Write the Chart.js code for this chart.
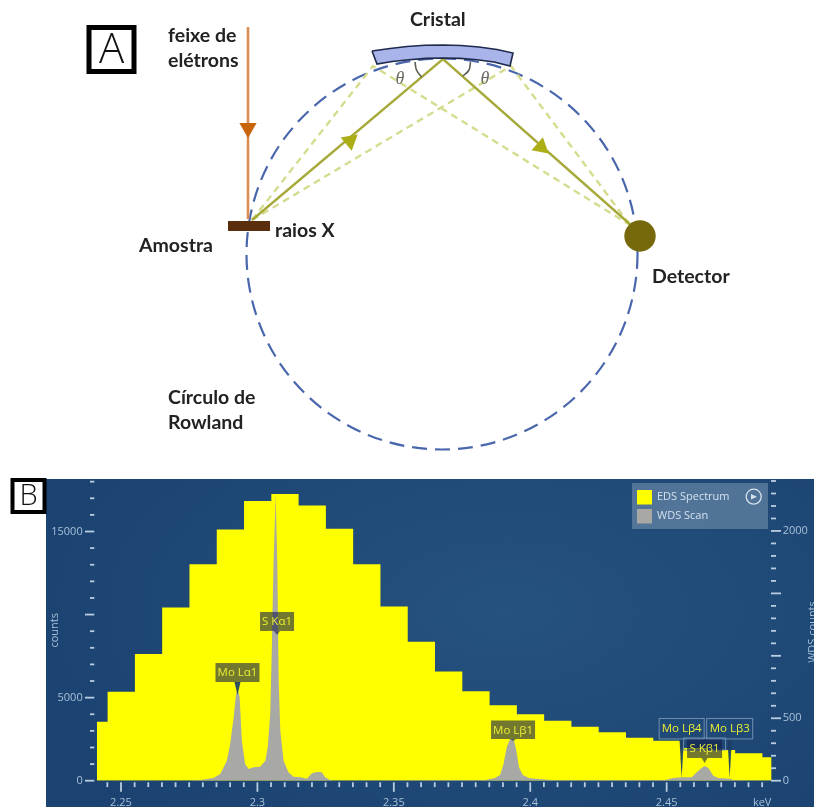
<!DOCTYPE html>
<html>
<head>
<meta charset="utf-8">
<script src="https://cdn.jsdelivr.net/npm/chart.js@4"></script>
<style>
  html, body { margin: 0; padding: 0; background: #fff; width: 814px; height: 807px; overflow: hidden; }
  canvas { position: absolute; display: block; }
  #spectrum { left: 46px; top: 479px; background: radial-gradient(ellipse 70% 90% at 60% 40%, #265280 0%, #1d4674 70%, #1b4270 100%); }
  #diagram { left: 0; top: 0; pointer-events: none; }
</style>
</head>
<body>
<canvas id="spectrum" width="768" height="328"></canvas>
<canvas id="diagram" width="814" height="807"></canvas>
<script>
// ---- spectrum data (panel B)
var edsEnergy = [2.2411, 2.2451, 2.2551, 2.2651, 2.2751, 2.2851, 2.2951, 2.3051, 2.3151, 2.3251, 2.3351, 2.3451, 2.3551,
  2.3651, 2.3751, 2.3851, 2.3951, 2.4051, 2.4151, 2.4251, 2.4351, 2.4451, 2.4551, 2.4651, 2.4751, 2.4851, 2.4885];
var edsCounts = [3554, 5360, 7630, 10420, 13030, 15120, 16830, 17250, 16570, 15160, 13030, 10480, 8370,
  6570, 5380, 4540, 4000, 3610, 3250, 2910, 2590, 2410, 1970, 1850, 1650, 1410, 1410];

var wdsEnergy = [2.2412, 2.2742, 2.2791, 2.2839, 2.2864, 2.2888, 2.29, 2.2913, 2.2921, 2.2927, 2.2935, 2.2943, 2.2955, 2.2968,
  2.2986, 2.301, 2.3029, 2.3038, 2.3047, 2.3053, 2.3059, 2.3067, 2.3073, 2.3078, 2.3084, 2.3096, 2.3114, 2.3132, 2.3157,
  2.3181, 2.32, 2.3218, 2.3236, 2.3248, 2.3267, 2.3279,
  2.3835, 2.3871, 2.389, 2.3902, 2.3914, 2.3926, 2.3939, 2.3948, 2.3959, 2.3972, 2.3994, 2.403, 2.4079, 2.4152,
  2.4494, 2.4524, 2.4555, 2.4592, 2.461, 2.4628, 2.464, 2.4653, 2.4671, 2.4689, 2.4732, 2.4744, 2.4763, 2.4885];
var wdsCounts = [0, 0, 5, 21, 53, 160, 294, 507, 681, 734, 667, 320, 133, 93,
  107, 112, 160, 267, 534, 1068, 1735, 2290, 1735, 801, 400, 160, 67, 32, 27,
  16, 59, 69, 67, 27, 5, 0,
  5, 21, 48, 133, 267, 334, 334, 254, 107, 48, 21, 13, 5, 3,
  5, 21, 27, 27, 67, 101, 117, 101, 40, 21, 16, 5, 3, 0];

var energyTicks = [2.245, 2.25, 2.255, 2.26, 2.265, 2.27, 2.275, 2.28, 2.285, 2.29, 2.295, 2.3, 2.305, 2.31, 2.315, 2.32, 2.325,
  2.33, 2.335, 2.34, 2.345, 2.35, 2.355, 2.36, 2.365, 2.37, 2.375, 2.38, 2.385, 2.39, 2.395, 2.4, 2.405, 2.41, 2.415, 2.42,
  2.425, 2.43, 2.435, 2.44, 2.445, 2.45, 2.455, 2.46, 2.465, 2.47, 2.475, 2.48, 2.485];
var energyMajor = [2.25, 2.3, 2.35, 2.4, 2.45];
var energyLabels = { '2.250': '2.25', '2.300': '2.3', '2.350': '2.35', '2.400': '2.4', '2.450': '2.45', '2.485': 'keV' };

var countTicks = [0, 1000, 2000, 3000, 4000, 5000, 6000, 7000, 8000, 9000, 10000, 11000, 12000, 13000, 14000, 15000, 16000, 17000, 18000];
var countMajor = [0, 5000, 10000, 15000];
var countLabels = [0, 5000, 15000];

var wdsTicks = [0, 100, 200, 300, 400, 500, 600, 700, 800, 900, 1000, 1100, 1200, 1300, 1400, 1500, 1600, 1700, 1800, 1900, 2000, 2100, 2200, 2300, 2400];
var wdsMajor = [0, 500, 1000, 1500, 2000];
var wdsLabels = [0, 500, 2000];

var peakNames = ['Mo L\u03b11', 'S K\u03b11', 'Mo L\u03b21', 'Mo L\u03b24', 'Mo L\u03b23', 'S K\u03b21'];
var peakEnergy = [2.2927, 2.3072, 2.3937, 2.4555, 2.4731, 2.4639];
var peakTipCounts = [686, 1167, 318, 22, 22, 142];

// ---- diagram geometry (panel A), page coordinates
var beamLine = [[248, 27], [248, 219]];
var sampleLine = [[228, 226], [270, 226]];
var raySolid = [[252, 220], [443, 59], [632, 226]];
var rayDashLeft = [[252, 220], [373, 66], [630, 225]];
var rayDashRight = [[252, 220], [511, 66], [630, 225]];
var crystalOutline = [[372, 51], [390, 48.5], [407, 46.5], [425, 45.3], [443, 45], [461, 45.5], [479, 47], [497, 49.5], [513, 53],
  [510, 66], [494, 62], [477, 59.7], [460, 58.4], [443, 58], [426, 58.4], [409, 59.7], [392, 61.5], [377, 64], [372, 51]];
var thetaLeft = [[415, 62], [416.5, 70], [421.5, 77]];
var thetaRight = [[470.5, 62], [469, 70], [463, 76]];
var detectorPoint = [[640, 236]];
var beamArrow = [[248, 128]];
var rayArrowIn = [[350, 141]];
var rayArrowOut = [[541, 147]];
var rowland = { x: 442, y: 254, r: 195.5 };

var diagramTexts = ['feixe de', 'el\u00e9trons', 'Cristal', 'raios X', 'Amostra', 'Detector', 'C\u00edrculo de', 'Rowland'];
var diagramTextX = [168, 168, 410, 275, 139, 652, 168, 168];
var diagramTextY = [36, 61, 20, 231, 246, 277, 398, 423];

function pts(a) { return a.map(function(p) { return { x: p[0], y: p[1] }; }); }
function zip(xs, ys) { return xs.map(function(x, i) { return { x: x, y: ys[i] }; }); }

var axisColor = '#a8c0d8';
var tickColor = '#b9cde0';
var axisFont = { family: '"Open Sans"', size: 11 };

// one label per peak: stem is the pointer length, boxed the plain outlined ones
var peakStyle = [
  { stem: 13, w: 44, h: 19, wedge: 3, dark: true },
  { stem: 4, w: 34, h: 19, wedge: 3 },
  { stem: 2, w: 44, h: 18.5, wedge: 3 },
  { stem: 39, w: 45, h: 20.5, wedge: 2.2, outlined: true, dark: true },
  { stem: 39, w: 46, h: 20.5, wedge: 2.2, outlined: true, dark: true },
  { stem: 5, w: 35, h: 18.5, wedge: 3, halo: true }
];

var tickMarks = {
  id: 'tickMarks',
  afterDraw: function(chart) {
    var c = chart.ctx, a = chart.chartArea, s = chart.scales;
    c.save();
    c.strokeStyle = tickColor;
    c.lineWidth = 1.8;
    energyTicks.forEach(function(v) {
      var x = s.x.getPixelForValue(v);
      var len = energyMajor.indexOf(v) >= 0 ? 9.5 : 4.8;
      c.beginPath(); c.moveTo(x, a.bottom + 1.6); c.lineTo(x, a.bottom + 1.6 + len); c.stroke();
    });
    countTicks.forEach(function(v) {
      var y = s.y.getPixelForValue(v);
      var len = countMajor.indexOf(v) >= 0 ? 9.3 : 4.3;
      c.beginPath(); c.moveTo(a.left - 2.4, y); c.lineTo(a.left - 2.4 - len, y); c.stroke();
    });
    wdsTicks.forEach(function(v) {
      var y = s.y2.getPixelForValue(v);
      var len = wdsMajor.indexOf(v) >= 0 ? 10 : 5;
      c.beginPath(); c.moveTo(a.right - 0.7, y); c.lineTo(a.right - 0.7 + len, y); c.stroke();
    });
    // right axis title runs off the edge of the panel, as in the original
    c.fillStyle = axisColor;
    c.font = '11px "Open Sans"';
    c.textAlign = 'center';
    c.textBaseline = 'middle';
    c.translate(767, 153);
    c.rotate(-Math.PI / 2);
    c.fillText('WDS counts', 0, 0);
    c.restore();
  }
};

var peakLabels = {
  id: 'peakLabels',
  afterDatasetsDraw: function(chart) {
    var c = chart.ctx, s = chart.scales;
    c.save();
    c.font = '11.5px "Open Sans"';
    c.textAlign = 'center';
    c.textBaseline = 'middle';
    peakNames.forEach(function(name, i) {
      var st = peakStyle[i];
      var x = s.x.getPixelForValue(peakEnergy[i]);
      var tip = s.y2.getPixelForValue(peakTipCounts[i]);
      var bottom = tip - st.stem;
      var top = bottom - st.h;
      if (st.halo) {
        c.strokeStyle = '#6f8fb0';
        c.lineWidth = 1;
        c.strokeRect(x - 21, top - 1.5, 42, 12);
      }
      c.fillStyle = st.dark ? 'rgba(28,62,104,0.92)' : 'rgba(20,30,75,0.6)';
      c.beginPath();
      c.moveTo(x - st.wedge, bottom); c.lineTo(x + st.wedge, bottom); c.lineTo(x, tip);
      c.closePath(); c.fill();
      if (st.outlined) {
        c.strokeStyle = '#6f8fb0';
        c.lineWidth = 1;
        c.strokeRect(x - st.w / 2, top, st.w, st.h);
      } else {
        c.fillStyle = 'rgba(20,30,75,0.6)';
        c.fillRect(x - st.w / 2, top, st.w, st.h);
      }
      c.fillStyle = '#ecee34';
      c.fillText(name, x, top + st.h / 2 + 0.5);
    });
    c.restore();
  }
};

var legendBox = {
  id: 'legendBox',
  afterDraw: function(chart) {
    var c = chart.ctx;
    c.save();
    c.fillStyle = 'rgba(170,190,210,0.36)';
    c.fillRect(586, 4, 136, 46);
    chart.data.datasets.forEach(function(ds, i) {
      // EDS is the second dataset but the first legend row
      var row = i === 1 ? 0 : 1;
      c.fillStyle = ds.backgroundColor;
      c.fillRect(591, 11 + row * 19, 15, 14.5);
      c.fillStyle = '#d6e2ee';
      c.font = '11px "Open Sans"';
      c.textAlign = 'left';
      c.textBaseline = 'middle';
      c.fillText(ds.label, 611, 18 + row * 18.5);
    });
    c.strokeStyle = '#d6e2ee';
    c.lineWidth = 1.3;
    c.beginPath(); c.arc(707.7, 17.7, 7.5, 0, Math.PI * 2); c.stroke();
    c.fillStyle = '#d6e2ee';
    c.beginPath(); c.moveTo(705, 15); c.lineTo(711, 17.7); c.lineTo(705, 20.4); c.closePath(); c.fill();
    c.restore();
  }
};

new Chart(document.getElementById('spectrum'), {
  type: 'line',
  data: {
    datasets: [
      { label: 'WDS Scan', data: zip(wdsEnergy, wdsCounts), yAxisID: 'y2', borderWidth: 0, pointRadius: 0,
        backgroundColor: '#a8a8a4', fill: 'origin' },
      { label: 'EDS Spectrum', data: zip(edsEnergy, edsCounts), yAxisID: 'y', stepped: true, borderWidth: 0, pointRadius: 0,
        backgroundColor: '#ffff00', fill: 'origin' }
    ]
  },
  plugins: [peakLabels, tickMarks, legendBox],
  options: {
    responsive: false,
    animation: false,
    layout: { autoPadding: false, padding: { top: 1 } },
    plugins: { legend: { display: false }, tooltip: { enabled: false } },
    scales: {
      x: {
        type: 'linear', min: 2.2411, max: 2.4885,
        grid: { display: false, drawTicks: false }, border: { display: false },
        afterBuildTicks: function(scale) { scale.ticks = energyTicks.map(function(v) { return { value: v }; }); },
        afterFit: function(scale) { scale.height = 26.3; scale.paddingLeft = 0; scale.paddingRight = 0; },
        ticks: {
          autoSkip: false, maxRotation: 0, color: axisColor, font: axisFont, padding: 16,
          callback: function(v) { return energyLabels[v.toFixed(3)] || ''; }
        }
      },
      y: {
        position: 'left', min: 0, max: 18100,
        grid: { display: false, drawTicks: false }, border: { display: false },
        afterBuildTicks: function(scale) { scale.ticks = countTicks.map(function(v) { return { value: v }; }); },
        afterFit: function(scale) { scale.width = 50.7; scale.paddingTop = 0; scale.paddingBottom = 0; },
        title: { display: true, text: 'counts', color: axisColor, font: axisFont, padding: { top: 2, bottom: 0 } },
        ticks: {
          autoSkip: false, color: axisColor, font: axisFont, padding: 14,
          callback: function(v) { return countLabels.indexOf(v) >= 0 ? String(v) : ''; }
        }
      },
      y2: {
        position: 'right', min: 0, max: 2408,
        grid: { display: false, drawTicks: false }, border: { display: false },
        afterBuildTicks: function(scale) { scale.ticks = wdsTicks.map(function(v) { return { value: v }; }); },
        afterFit: function(scale) { scale.width = 42.3; scale.paddingTop = 0; scale.paddingBottom = 0; },
        ticks: {
          autoSkip: false, color: axisColor, font: axisFont, padding: 11,
          callback: function(v) { return wdsLabels.indexOf(v) >= 0 ? String(v) : ''; }
        }
      }
    }
  }
});

// ---- panel A
var rowlandCircle = {
  id: 'rowlandCircle',
  beforeDatasetsDraw: function(chart) {
    var c = chart.ctx, s = chart.scales;
    c.save();
    c.strokeStyle = '#4a67ad';
    c.lineWidth = 2.2;
    c.setLineDash([15, 8]);
    c.beginPath();
    c.arc(s.x.getPixelForValue(rowland.x), s.y.getPixelForValue(rowland.y), rowland.r, 0, Math.PI * 2);
    c.stroke();
    c.restore();
  }
};

var diagramLabels = {
  id: 'diagramLabels',
  afterDatasetsDraw: function(chart) {
    var c = chart.ctx, s = chart.scales;
    c.save();
    c.fillStyle = '#222';
    c.textAlign = 'left';
    c.textBaseline = 'middle';
    c.font = '700 19.5px Lato';
    diagramTexts.forEach(function(t, i) {
      c.fillText(t, s.x.getPixelForValue(diagramTextX[i]), s.y.getPixelForValue(diagramTextY[i]));
    });
    // theta marks
    c.fillStyle = '#6a6a62';
    c.textAlign = 'center';
    c.font = 'italic 18px "Liberation Serif"';
    c.fillText('\u03b8', 400, 79);
    c.fillText('\u03b8', 485, 79);
    // panel letters
    c.lineJoin = 'miter';
    c.strokeStyle = '#000';
    c.lineWidth = 5;
    c.fillStyle = '#fff';
    c.fillRect(89, 27.5, 45, 44);
    c.strokeRect(89, 27.5, 45, 44);
    c.fillStyle = '#111';
    c.font = '300 42px "Open Sans"';
    c.fillText('A', 111.5, 51);
    c.lineWidth = 4;
    c.fillStyle = '#fff';
    c.fillRect(12.5, 480, 32, 32);
    c.strokeRect(12.5, 480, 32, 32);
    c.fillStyle = '#111';
    c.font = '300 29px "Open Sans"';
    c.fillText('B', 28.5, 497);
    c.restore();
  }
};

function lineSet(points, color, width, dash) {
  return { type: 'line', data: pts(points), borderColor: color, borderWidth: width, borderDash: dash || [], pointRadius: 0, fill: false, showLine: true };
}
function markerSet(points, color, radius, style, rotation) {
  return { data: pts(points), showLine: false, pointStyle: style, pointRadius: radius, pointRotation: rotation,
    backgroundColor: color, borderColor: color, borderWidth: 0 };
}

var crystalSet = lineSet(crystalOutline, '#1f2a4c', 1.6);
crystalSet.fill = 'shape';
crystalSet.backgroundColor = '#a9b4ea';
crystalSet.tension = 0;

var thetaLeftSet = lineSet(thetaLeft, '#5b6050', 1.6);
thetaLeftSet.tension = 0.4;
var thetaRightSet = lineSet(thetaRight, '#5b6050', 1.6);
thetaRightSet.tension = 0.4;

new Chart(document.getElementById('diagram'), {
  type: 'scatter',
  data: {
    datasets: [
      markerSet(detectorPoint, '#76690c', 15.7, 'circle', 0),
      markerSet(beamArrow, '#c8660e', 10, 'triangle', 180),
      markerSet(rayArrowIn, '#abae14', 10, 'triangle', 50),
      markerSet(rayArrowOut, '#abae14', 10, 'triangle', 131),
      crystalSet,
      thetaLeftSet,
      thetaRightSet,
      lineSet(sampleLine, '#5a2d0c', 10),
      lineSet(beamLine, '#da8e55', 2.6),
      lineSet(raySolid, '#a6aa3a', 2.4),
      lineSet(rayDashLeft, '#d6dc8e', 2.4, [7, 5]),
      lineSet(rayDashRight, '#d6dc8e', 2.4, [7, 5])
    ]
  },
  plugins: [rowlandCircle, diagramLabels],
  options: {
    responsive: false,
    animation: false,
    events: [],
    layout: { autoPadding: false, padding: 0 },
    plugins: { legend: { display: false }, tooltip: { enabled: false } },
    scales: {
      x: { type: 'linear', display: false, min: 0, max: 814 },
      y: { type: 'linear', display: false, min: 0, max: 807, reverse: true }
    }
  }
});
</script>
</body>
</html>
